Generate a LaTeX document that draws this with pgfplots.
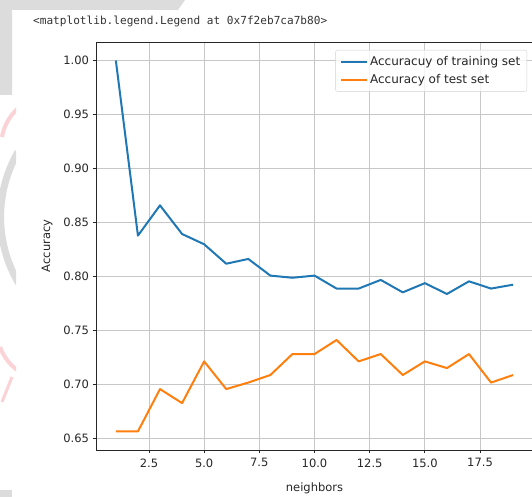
\documentclass[border=0pt]{standalone}
\usepackage{fontspec}
\setmainfont{DejaVu Sans}
\newfontfamily\monofont{DejaVu Sans Mono}
\usepackage{pgfplots}
\pgfplotsset{compat=1.18}
\definecolor{tabblue}{HTML}{1F77B4}
\definecolor{taborange}{HTML}{FF7F0E}
\definecolor{wmgrey}{HTML}{DCDCDC}
\definecolor{wmpink}{HTML}{FBD3D6}
\begin{document}
\begin{tikzpicture}[x=1pt,y=1pt]
\useasboundingbox (0,0) rectangle (532,497);
% faint background watermark
\fill[wmgrey] (0,497) -- (185,497) -- (178,487) -- (12,487) -- (12,402) -- (0,402) -- cycle;
\begin{scope}
\clip (0,0) rectangle (16,400);
\draw[wmpink, line width=4pt] (2,360) arc[start angle=170, end angle=110, radius=50];
\draw[wmgrey, line width=7pt] (18,345) arc[start angle=150, end angle=215, radius=130];
\draw[wmpink, line width=4pt] (0,150) arc[start angle=200, end angle=250, radius=50];
\draw[wmpink, line width=3pt] (2,95) -- (12,120);
\end{scope}
\fill[wmgrey] (0,0) rectangle (12,7);
\node[anchor=west, font=\monofont\fontsize{11.1}{13}\selectfont, text=black!80, inner sep=0pt] at (33,476) {<matplotlib.legend.Legend at 0x7f2eb7ca7b80>};
\begin{axis}[
  at={(96pt,47pt)}, anchor=south west,
  scale only axis, width=437pt, height=408pt,
  xmin=0.1, xmax=19.9, ymin=0.6396, ymax=1.0172,
  xtick={2.5,5,7.5,10,12.5,15,17.5},
  ytick={0.65,0.70,0.75,0.80,0.85,0.90,0.95,1.00},
  xticklabel style={yshift=-1.5pt, /pgf/number format/.cd, fixed, fixed zerofill, precision=1},
  yticklabel style={/pgf/number format/.cd, fixed, fixed zerofill, precision=2},
  /pgf/number format/assume math mode=true,
  ticklabel style={font=\fontsize{11.5}{13}\selectfont, text=black!85},
  label style={font=\fontsize{11.5}{13}\selectfont, text=black!85},
  tick pos=left, tick align=outside, major tick length=3.5pt,
  tick style={black!85, line width=0.8pt},
  axis line style={black!85, line width=0.8pt},
  grid=major, grid style={color=black!22, line width=0.8pt},
  xlabel={neighbors}, ylabel={Accuracy},
  xlabel style={at={(axis description cs:0.5,-0.093)}, anchor=center},
  ylabel style={at={(axis description cs:-0.112,0.5)}, anchor=center},
  legend cell align=left,
  legend image code/.code={\draw[#1, line width=2pt] (0pt,0pt) -- (26pt,0pt);},
  legend style={at={(axis description cs:1,1)}, anchor=north east, xshift=-6pt, yshift=-8pt,
    draw=black!18, rounded corners=2pt, fill=white, fill opacity=0.8, text opacity=1,
    font=\fontsize{12}{14}\selectfont, text=black!85, row sep=3pt, inner sep=4.5pt},
]
\addplot[tabblue, line width=2pt, line join=round] coordinates {
(1,1.0) (2,0.838) (3,0.866) (4,0.8395) (5,0.830) (6,0.812) (7,0.8164) (8,0.801) (9,0.799) (10,0.801)
(11,0.789) (12,0.789) (13,0.797) (14,0.7855) (15,0.794) (16,0.784) (17,0.7957) (18,0.789) (19,0.7926)};
\addlegendentry{Accuracuy of training set}
\addplot[taborange, line width=2pt, line join=round] coordinates {
(1,0.6568) (2,0.6568) (3,0.696) (4,0.683) (5,0.7216) (6,0.696) (7,0.702) (8,0.709) (9,0.7284) (10,0.7284)
(11,0.7414) (12,0.7216) (13,0.7284) (14,0.709) (15,0.7216) (16,0.7154) (17,0.7284) (18,0.702) (19,0.709)};
\addlegendentry{Accuracy of test set}
\end{axis}
\end{tikzpicture}
\end{document}
